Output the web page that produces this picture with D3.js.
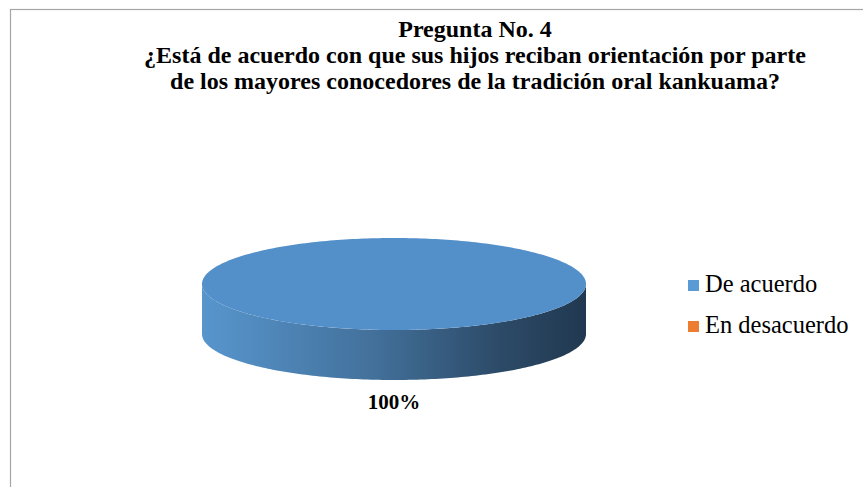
<!DOCTYPE html>
<html>
<head>
<meta charset="UTF-8">
<title>Pregunta No. 4</title>
<script src="https://cdn.jsdelivr.net/npm/d3@7"></script>
<style>
  body { margin: 0; background: #ffffff; }
  svg { display: block; font-family: "Liberation Serif", "Times New Roman", serif; }
</style>
</head>
<body>
<svg width="863" height="487"></svg>
<script>
  // data
  const categories = ["De acuerdo", "En desacuerdo"];
  const values = [100, 0];
  const colors = ["#5b9bd5", "#ed7d31"];
  const titleLines = [
    "Pregunta No. 4",
    "¿Está de acuerdo con que sus hijos reciban orientación por parte",
    "de los mayores conocedores de la tradición oral kankuama?"
  ];

  const svg = d3.select("svg");

  // chart frame
  svg.append("rect")
    .attr("x", 10.5).attr("y", 9.5)
    .attr("width", 900).attr("height", 500)
    .attr("fill", "#ffffff")
    .attr("stroke", "#a6a6a6")
    .attr("stroke-width", 1.2);

  // title
  svg.append("text")
    .attr("text-anchor", "middle")
    .attr("font-weight", "bold")
    .attr("font-size", 24)
    .attr("fill", "#000")
    .selectAll("tspan")
    .data(titleLines)
    .join("tspan")
    .attr("x", 475)
    .attr("y", (d, i) => 37 + i * 26)
    .text(d => d);

  // 3d pie
  let cx = 394, cy = 284, rx = 192, ry = 46, depth = 50;
  let total = d3.sum(values);
  let pie = d3.pie().sort(null)(values);

  let defs = svg.append("defs");
  let grad = defs.append("linearGradient")
    .attr("id", "side")
    .attr("gradientUnits", "userSpaceOnUse")
    .attr("x1", cx - rx).attr("x2", cx + rx)
    .attr("y1", 0).attr("y2", 0);
  [[0, "#5895cd"], [0.12, "#528cc0"], [0.45, "#42709a"], [0.78, "#2c4a67"], [1, "#213850"]]
    .forEach(s => grad.append("stop").attr("offset", s[0]).attr("stop-color", s[1]));

  function px(a) { return cx + rx * Math.sin(a); }
  function py(a) { return cy - ry * Math.cos(a); }

  function topPath(d) {
    let span = d.endAngle - d.startAngle;
    let steps = Math.max(2, Math.ceil(span / 0.02));
    let pts = d3.range(steps + 1).map(i => d.startAngle + span * i / steps);
    let p = d3.path();
    if (span < 2 * Math.PI - 1e-6) p.moveTo(cx, cy); else p.moveTo(px(pts[0]), py(pts[0]));
    pts.forEach(a => p.lineTo(px(a), py(a)));
    p.closePath();
    return p.toString();
  }

  function sidePath(d) {
    // visible front wall between PI/2 and 3PI/2
    let a0 = Math.max(d.startAngle, Math.PI / 2);
    let a1 = Math.min(d.endAngle, 3 * Math.PI / 2);
    if (a1 <= a0) return null;
    let steps = Math.ceil((a1 - a0) / 0.02);
    let pts = d3.range(steps + 1).map(i => a0 + (a1 - a0) * i / steps);
    let p = d3.path();
    p.moveTo(px(pts[0]), py(pts[0]));
    pts.forEach(a => p.lineTo(px(a), py(a)));
    pts.slice().reverse().forEach(a => p.lineTo(px(a), py(a) + depth));
    p.closePath();
    return p.toString();
  }

  let slices = pie.filter(d => d.value > 0);

  svg.append("g").selectAll("path")
    .data(slices)
    .join("path")
    .attr("d", sidePath)
    .attr("fill", "url(#side)");

  svg.append("g").selectAll("path")
    .data(slices)
    .join("path")
    .attr("d", topPath)
    .attr("fill", "#538fc9");

  // percentage labels
  svg.append("g").selectAll("text")
    .data(slices)
    .join("text")
    .attr("x", d => {
      let m = (d.startAngle + d.endAngle) / 2;
      return d.endAngle - d.startAngle >= 2 * Math.PI - 1e-6 ? cx : px(m);
    })
    .attr("y", 409)
    .attr("text-anchor", "middle")
    .attr("font-weight", "bold")
    .attr("font-size", 21)
    .text(d => d3.format(".0%")(d.value / total));

  // legend
  let legend = svg.append("g").selectAll("g")
    .data(categories)
    .join("g")
    .attr("transform", (d, i) => `translate(688, ${280 + i * 41})`);
  legend.append("rect")
    .attr("width", 11).attr("height", 11)
    .attr("fill", (d, i) => colors[i]);
  legend.append("text")
    .attr("x", 17).attr("y", 12)
    .attr("font-size", 24.5)
    .text(d => d);
</script>
</body>
</html>
